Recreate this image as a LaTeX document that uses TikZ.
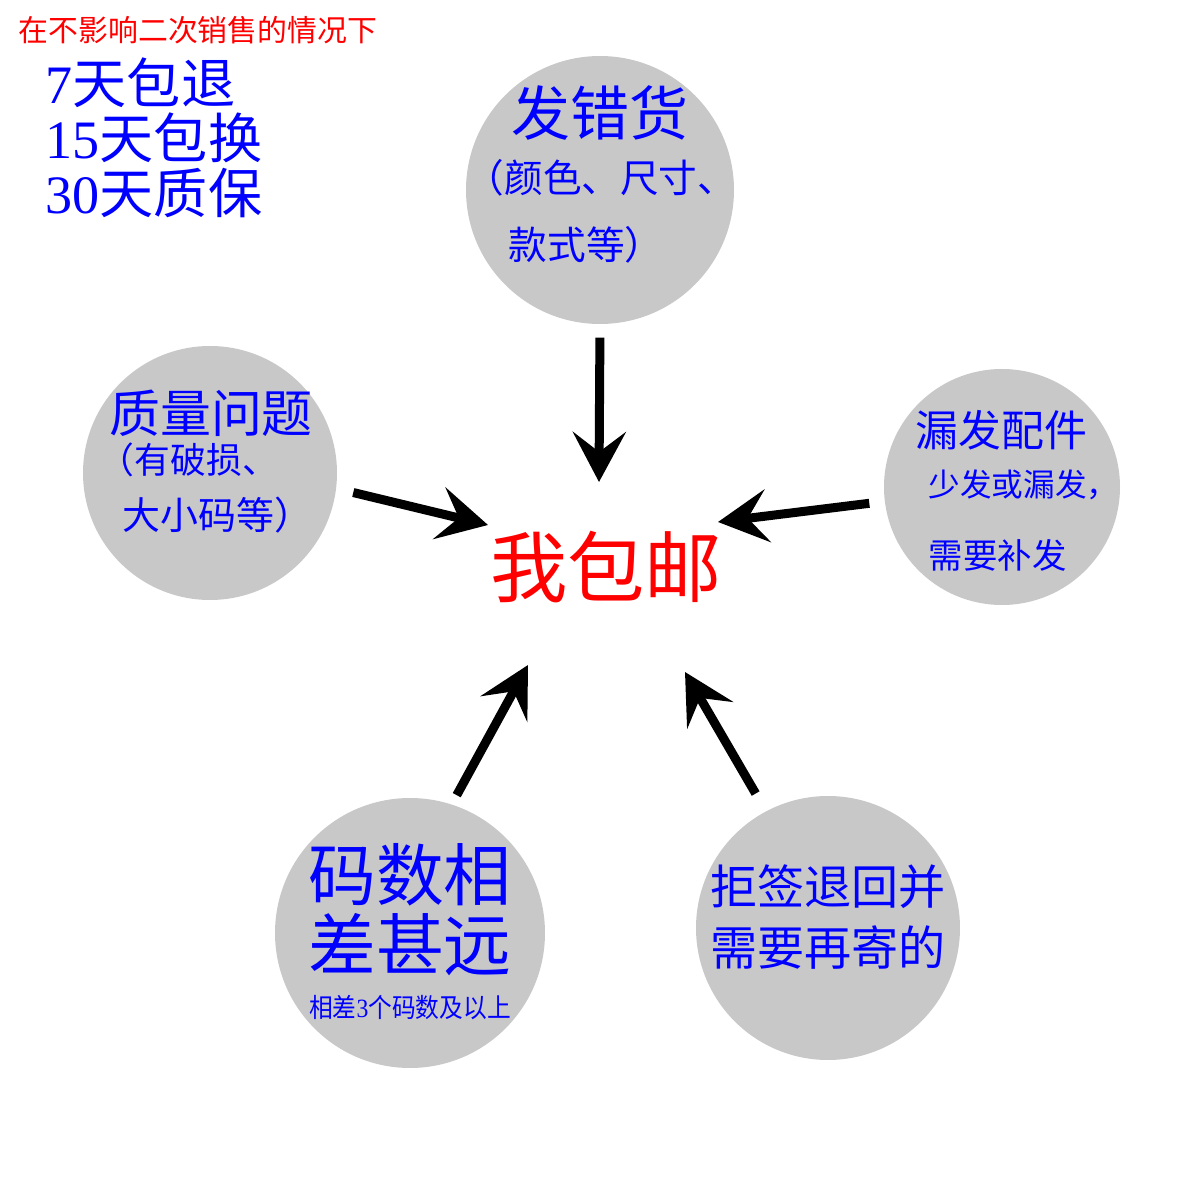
\documentclass[tikz,border=0pt]{standalone}
\usepackage{fontspec}
\setmainfont{Liberation Serif}
\newfontfamily\cjk{Noto Sans CJK SC}
\usepackage{xcolor}
\usetikzlibrary{arrows.meta}
\definecolor{bubblegray}{RGB}{200,200,200}
\definecolor{txtblue}{RGB}{0,0,255}
\definecolor{txtred}{RGB}{255,0,0}
\newcommand{\fsz}[2]{\fontsize{#1}{#2}\selectfont}

\begin{document}
\begin{tikzpicture}[
    bubble/.style={circle, fill=bubblegray, inner sep=0pt},
    bluetxt/.style={text=txtblue, inner sep=0pt},
    fat/.style={line width=0.09cm, -{Stealth[length=0.5cm, width=0.53cm, inset=0.2cm]}}
]
    \useasboundingbox (0,0) rectangle (12,12);

    % 左上角说明
    \node[anchor=west, text=txtred, font={\cjk\fsz{8.5pt}{10pt}}, inner sep=0pt] (note) at (0.18,11.70) {在不影响二次销售的情况下};
    \node[anchor=west, align=left, bluetxt, font={\fsz{15.4pt}{15.6pt}}] (policy) at (0.45,10.62)
        {7{\cjk 天包退}\\15{\cjk 天包换}\\30{\cjk 天质保}};

    % 五个圆
    \node[bubble, minimum size=2.68cm] (miss) at (6.00,10.10) {};
    \node[bubble, minimum size=2.54cm] (qual) at (2.10,7.27) {};
    \node[bubble, minimum size=2.36cm] (part) at (10.02,7.13) {};
    \node[bubble, minimum size=2.70cm] (size) at (4.10,2.67) {};
    \node[bubble, minimum size=2.64cm] (back) at (8.28,2.72) {};

    % 圆内文字
    \node[bluetxt, font={\cjk\fsz{16.8pt}{18pt}}] (misst) at (6.00,10.87) {发错货};
    \node[bluetxt, font={\cjk\fsz{11pt}{12pt}}] (missa) at (6.01,10.22) {（颜色、尺寸、};
    \node[bluetxt, anchor=west, font={\cjk\fsz{11pt}{12pt}}] (missb) at (5.08,9.55) {款式等）};

    \node[bluetxt, font={\cjk\fsz{14.5pt}{16pt}}] (qualt) at (2.11,7.87) {质量问题};
    \node[bluetxt, anchor=west, font={\cjk\fsz{10.2pt}{12pt}}] (quala) at (0.98,7.40) {（有破损、};
    \node[bluetxt, anchor=west, font={\cjk\fsz{10.8pt}{12pt}}] (qualb) at (1.22,6.85) {大小码等）};

    \node[bluetxt, anchor=west, font={\cjk\fsz{12.2pt}{14pt}}] (partt) at (9.15,7.70) {漏发配件};
    \node[bluetxt, anchor=west, font={\cjk\fsz{9pt}{11pt}}] (parta) at (9.28,7.15) {少发或漏发，};
    \node[bluetxt, anchor=west, font={\cjk\fsz{9.8pt}{11pt}}] (partb) at (9.28,6.45) {需要补发};

    \node[bluetxt, align=center, font={\cjk\fsz{19.3pt}{19.9pt}}] (sizet) at (4.10,2.90) {码数相\\差甚远};
    \node[bluetxt, xscale=0.9, font={\fsz{7.5pt}{9pt}}] (sizea) at (4.10,1.92) {{\cjk 相差}3{\cjk 个码数及以上}};

    \node[bluetxt, align=center, font={\cjk\fsz{13.4pt}{17.1pt}}] (backt) at (8.28,2.83) {拒签退回并\\需要再寄的};

    % 中间
    \node[text=txtred, font={\cjk\fsz{22pt}{24pt}}, inner sep=0pt] (hub) at (6.06,6.33) {我包邮};

    % 箭头
    \coordinate (tipmiss) at (5.99,7.18);
    \coordinate (tipqual) at (4.88,6.75);
    \coordinate (tippart) at (7.18,6.78);
    \coordinate (tipsize) at (5.28,5.35);
    \coordinate (tipback) at (6.85,5.28);
    \draw[fat, shorten <=0.13cm] (miss.-90) -- (tipmiss);
    \draw[fat, shorten <=0.17cm] (qual.-7) -- (tipqual);
    \draw[fat, shorten <=0.15cm] (part.187) -- (tippart);
    \draw[fat, shorten <=0.10cm] (size.72) -- (tipsize);
    \draw[fat, shorten <=0.20cm] (back.118) -- (tipback);
\end{tikzpicture}
\end{document}
